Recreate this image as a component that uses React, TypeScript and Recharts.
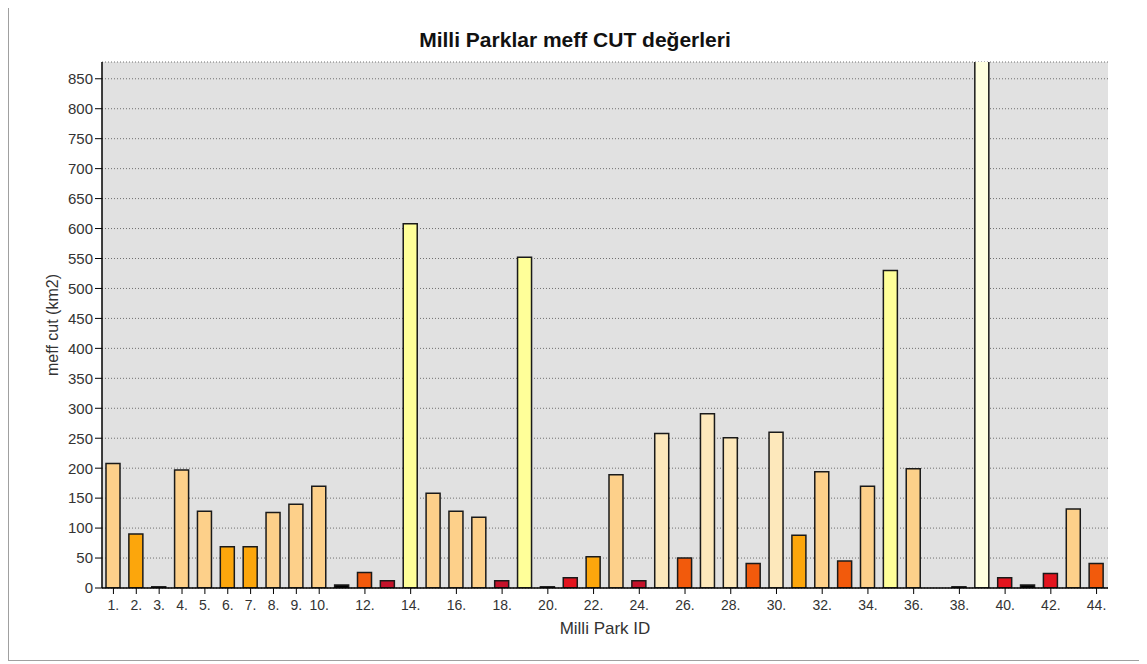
import React from 'react';
import { BarChart, Bar, XAxis, YAxis, CartesianGrid, Cell } from 'recharts';

const parkIds = [
  '1.', '2.', '3.', '4.', '5.', '6.', '7.', '8.', '9.', '10.',
  '11.', '12.', '13.', '14.', '15.', '16.', '17.', '18.', '19.', '20.',
  '21.', '22.', '23.', '24.', '25.', '26.', '27.', '28.', '29.', '30.',
  '31.', '32.', '33.', '34.', '35.', '36.', '37.', '38.', '39.', '40.',
  '41.', '42.', '43.', '44.',
];

const meffCut = [
  208, 90, 2, 197, 128, 69, 69, 126, 140, 170,
  5, 26, 12, 608, 158, 128, 118, 12, 552, 2,
  17, 52, 189, 12, 258, 50, 291, 251, 41, 260,
  88, 194, 45, 170, 530, 199, 0, 2, 1100, 17,
  5, 24, 132, 41,
];

const xTickLabels = [
  '1.', '2.', '3.', '4.', '5.', '6.', '7.', '8.', '9.', '10.',
  '12.', '14.', '16.', '18.', '20.', '22.', '24.', '26.', '28.', '30.',
  '32.', '34.', '36.', '38.', '40.', '42.', '44.',
];

const yTicks = [0, 50, 100, 150, 200, 250, 300, 350, 400, 450, 500, 550, 600, 650, 700, 750, 800, 850];

const data = parkIds.map((id, i) => ({ id, value: meffCut[i] }));

// colour class by value
function classColor(v: number): string {
  if (v < 10) return '#000000';
  if (v < 15) return '#c4122a';
  if (v < 25) return '#e3141e';
  if (v <= 50) return '#f25a0c';
  if (v < 100) return '#fca60c';
  if (v < 250) return '#fdd08a';
  if (v < 500) return '#fde8bb';
  if (v < 800) return '#ffff99';
  return '#ffffe0';
}

const FONT = '"Liberation Sans", Arial, sans-serif';

export default function App() {
  return (
    <div
      style={{
        position: 'relative',
        marginTop: -8,
        width: 1132,
        height: 660,
        borderLeft: '1px solid #a0a0a0',
        borderRight: '1px solid #a0a0a0',
        borderBottom: '1px solid #a0a0a0',
        background: '#fff',
        fontFamily: FONT,
      }}
    >
      <div
        style={{
          position: 'absolute',
          top: 28,
          left: 0,
          width: '100%',
          textAlign: 'center',
          fontSize: 21,
          fontWeight: 'bold',
          color: '#111',
        }}
      >
        Milli Parklar meff CUT değerleri
      </div>
      <BarChart
        width={1132}
        height={660}
        data={data}
        margin={{ top: 62, right: 33, left: 0, bottom: 32 }}
        barCategoryGap={0}
        style={{ fontFamily: FONT }}
      >
        <CartesianGrid
          vertical={false}
          fill="#e1e1e1"
          stroke="#707070"
          strokeDasharray="1 2"
        />
        <XAxis
          dataKey="id"
          height={40}
          ticks={xTickLabels}
          interval={0}
          tickSize={6}
          tickMargin={6}
          tickLine={{ stroke: '#000' }}
          axisLine={{ stroke: '#000', strokeWidth: 1.5 }}
          tick={{ fontSize: 14, fill: '#333' }}
          label={{ value: 'Milli Park ID', position: 'insideBottom', offset: -6, fontSize: 17, fill: '#333' }}
        />
        <XAxis xAxisId="top" dataKey="id" orientation="top" height={0} tick={false} tickLine={false} axisLine={{ stroke: '#808080' }} />
        <YAxis
          width={93}
          domain={[0, 878]}
          allowDataOverflow
          ticks={yTicks}
          interval={0}
          tickSize={7}
          tickLine={{ stroke: '#000' }}
          axisLine={{ stroke: '#000', strokeWidth: 1.5 }}
          tick={{ fontSize: 15, fill: '#333' }}
          label={{ value: 'meff cut (km2)', angle: -90, position: 'center', dx: -3, fontSize: 16, fill: '#333' }}
        />
        <YAxis yAxisId="right" orientation="right" width={0} tick={false} tickLine={false} axisLine={{ stroke: '#808080' }} />
        <Bar dataKey="value" barSize={14} stroke="#1a1a1a" strokeWidth={1.5} isAnimationActive={false}>
          {data.map((d) => (
            <Cell key={d.id} fill={classColor(d.value)} />
          ))}
        </Bar>
      </BarChart>
    </div>
  );
}
